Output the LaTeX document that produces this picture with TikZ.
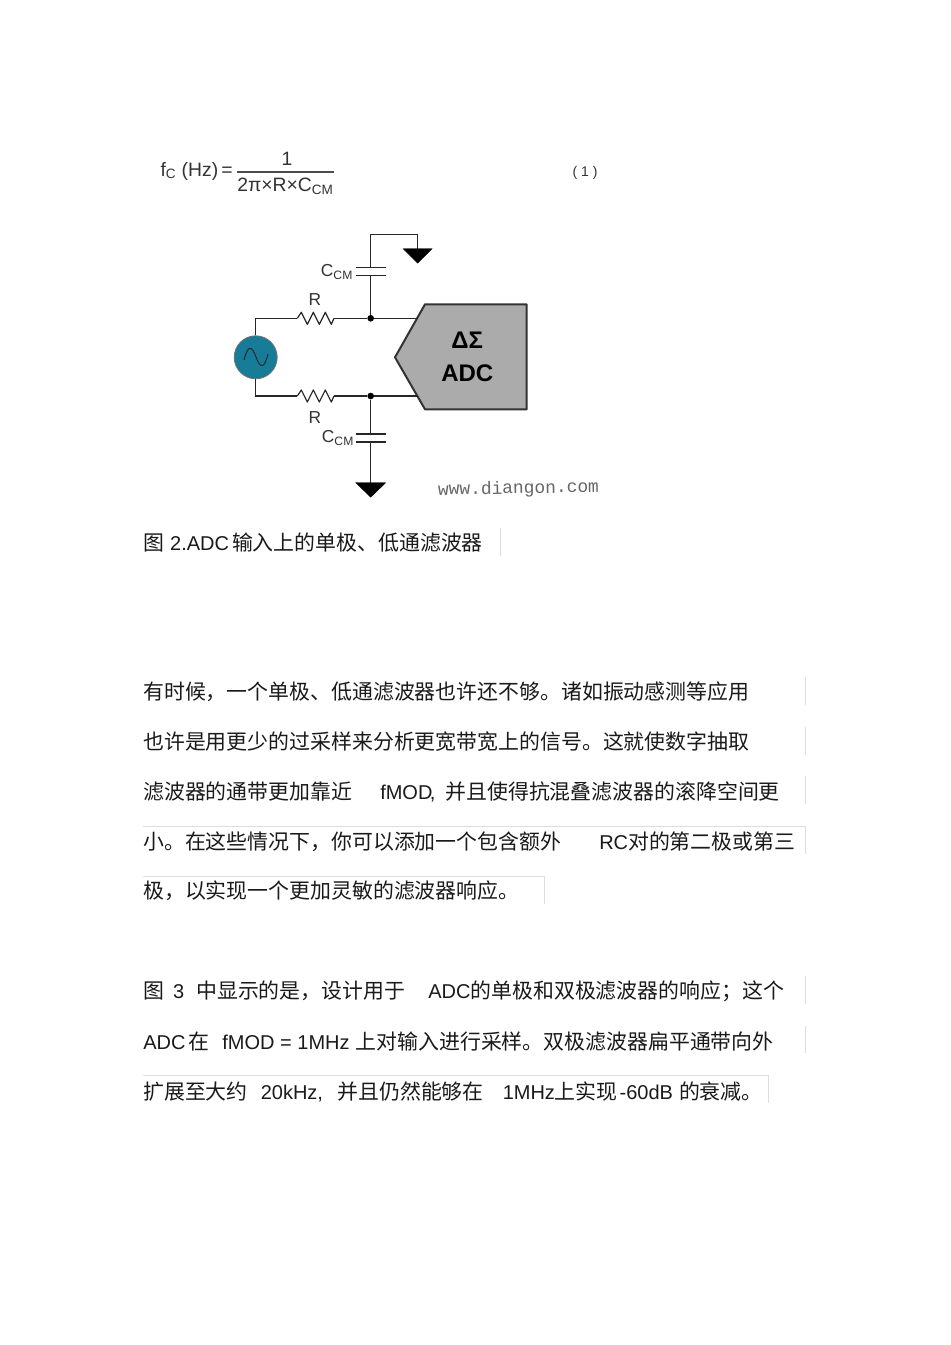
\documentclass[tikz,border=0pt]{standalone}
\usepackage{fontspec}
\setmainfont{Liberation Sans}
\newfontfamily\cjk[Scale=1.045]{Noto Sans CJK SC}
\newfontfamily\wmfont{Liberation Mono}
\usetikzlibrary{positioning}
\newcommand{\zh}[1]{{\cjk #1}}
\newcommand{\pxgap}[1]{\hspace{#1\dimexpr0.75pt\relax}}
\definecolor{srcteal}{HTML}{167C97}
\definecolor{adcgray}{HTML}{ABABAB}
\definecolor{inkgray}{HTML}{1A1A1A}
\definecolor{boxline}{HTML}{DDDDDD}
\begin{document}
\begin{tikzpicture}[x=0.75pt, y=-0.75pt,
wire/.style={draw=black!85, line width=0.9pt},
plate/.style={draw=black!85, line width=1pt},
gnd/.style={fill=black, draw=black, line width=0.3pt},
lbl/.style={inner sep=0pt, font=\fontsize{13}{15}\selectfont, text=black!80},
eqn/.style={inner sep=0pt, font=\fontsize{14.5}{16}\selectfont, text=black!80},
textline/.style={anchor=base west, inner sep=0pt, font=\fontsize{15}{18}\selectfont, text=inkgray},
boxedge/.style={draw=boxline, line width=0.5pt}]
\useasboundingbox (0,0) rectangle (950,1345);
\fill[white] (0,0) rectangle (950,1345);

\node[eqn, anchor=east] (fc) at (233,171) {f\textsubscript{C} (Hz)\,=};
\node[eqn] (num) at (287,159) {1};
\node[eqn] (den) at (285.5,186) {2π×R×C\textsubscript{CM}};
\draw[draw=black!70, line width=0.8pt] (den.north west |- 0,172) -- (den.north east |- 0,172);
\node[eqn, font=\fontsize{10.5}{12}\selectfont] (eqno) at (585,173) {( 1 )};

\node[circle, draw=black!55, fill=srcteal, line width=0.6pt, minimum size=43pt*0.75, inner sep=0pt] (src) at (255.7,357.3) {};
\draw[line width=0.7pt, black!85] (244,360) .. controls (248,344) and (252,346) .. (256,357) .. controls (260,368) and (264,370) .. (268,354);

\coordinate (adcTip) at (395,357.3);
\coordinate (adcTL) at (425,304.3);
\coordinate (adcTR) at (526.7,304.3);
\coordinate (adcBR) at (526.7,409.3);
\coordinate (adcBL) at (425,409.3);
\draw[fill=adcgray, draw=black!80, line width=1.5pt, line join=round] (adcTip) -- (adcTL) -- (adcTR) -- (adcBR) -- (adcBL) -- cycle;
\node[inner sep=0pt, font=\fontsize{18}{20}\selectfont\bfseries] (dsig) at (467.3,340) {ΔΣ};
\node[inner sep=0pt, font=\fontsize{18}{20}\selectfont\bfseries] (adc) at (467.3,373.3) {ADC};

\coordinate (rTopA) at (297.3,318.3);
\coordinate (rBotA) at (297.3,396);
\coordinate (rTopB) at (334,318.3);
\coordinate (rBotB) at (334,396);
\coordinate (inTop) at (418,318.3);
\coordinate (inBot) at (418,396);
\node[circle, fill=black, inner sep=0pt, minimum size=5pt] (jTop) at (370.7,318.3) {};
\node[circle, fill=black, inner sep=0pt, minimum size=5pt] (jBot) at (370.7,396) {};

\draw[wire] (src.north) |- (rTopA);
\draw[wire] (src.south) |- (rBotA);
\foreach \n in {rTop,rBot}
  \draw[wire, line join=round] (\n A) -- ++(4,-6) -- ++(6,12) -- ++(6,-12) -- ++(6,12) -- ++(6,-12) -- ++(6,12) -- (\n B);
\draw[wire] (rTopB) -- (jTop) -- (inTop);
\draw[wire] (rBotB) -- (jBot) -- (inBot);

\coordinate (capTopA) at (370.7,267.3);
\coordinate (capTopB) at (370.7,275.3);
\coordinate (capBotA) at (370.7,434);
\coordinate (capBotB) at (370.7,442);
\foreach \n in {capTopA,capTopB,capBotA,capBotB}
  \draw[plate] ([xshift=-14.5*0.75pt]\n) -- ([xshift=15*0.75pt]\n);

\coordinate (topCorner) at (370.7,234.3);
\coordinate (gndTop) at (417.7,248.7);
\coordinate (gndBot) at (370.7,482.7);
\draw[wire] (jTop) -- (capTopB);
\draw[wire] (capTopA) -- (topCorner) -| (gndTop);
\draw[wire] (jBot) -- (capBotA);
\draw[wire] (capBotB) -- (gndBot);
\draw[gnd] (gndTop) ++(-14.5,0) -- ++(29,0) -- ++(-14.5,14.5) -- cycle;
\draw[gnd] (gndBot) ++(-15,0) -- ++(30,0) -- ++(-15,14.5) -- cycle;

\node[lbl] (rTopLbl) at (315,300) {R};
\node[lbl] (rBotLbl) at (315,418) {R};
\node[lbl] (cTopLbl) at (337,272) {C\textsubscript{CM}};
\node[lbl] (cBotLbl) at (338,438) {C\textsubscript{CM}};

\node[inner sep=0pt, rotate=1, text=black!60, font=\wmfont\fontsize{13.4}{15}\selectfont] (wmark) at (518.5,489) {www.diangon.com};

\node[textline] (cap) at (143,550) {\zh{图}\pxgap{6}2.ADC\pxgap{3}\zh{输入上的单极、低通滤波器}};
\node[textline] (p1a) at (143,699) {\zh{有时候，一个单极、低通滤波器也许还不够。诸如振动感测等应用}};
\node[textline] (p1b) at (143,749) {\zh{也许是用更少的过采样来分析更宽带宽上的信号。这就使数字抽取}};
\node[textline] (p1c) at (143,799) {\zh{滤波器的通带更加靠近}\pxgap{28}fMOD\rlap{\kern-2pt,}\pxgap{13}\zh{并且使得抗混叠滤波器的滚降空间更}};
\node[textline] (p1d) at (143,849) {\zh{小。在这些情况下，你可以添加一个包含额外}\pxgap{38}RC\zh{对的第二极或第三}};
\node[textline] (p1e) at (143,898) {\zh{极，以实现一个更加灵敏的滤波器响应。}};
\node[textline] (p2a) at (143,998) {\zh{图}\pxgap{9}3\pxgap{12}\zh{中显示的是，设计用于}\pxgap{23}ADC\zh{的单极和双极滤波器的响应；这个}};
\node[textline] (p2b) at (143,1049) {ADC\pxgap{3}\zh{在}\pxgap{13}fMOD = 1MHz\pxgap{6}\zh{上对输入进行采样。双极滤波器扁平通带向外}};
\node[textline] (p2c) at (143,1099) {\zh{扩展至大约}\pxgap{13}20kHz\rlap{,}\pxgap{20}\zh{并且仍然能够在}\pxgap{19}1MHz\zh{上实现}\pxgap{2}-60dB\pxgap{6}\zh{的衰减。}};

\draw[boxedge] (500,528) -- (500,556);
\foreach \ya/\yb in {677/705,727/755,776/804,976/1004,1026/1053}
  \draw[boxedge] (805,\ya) -- (805,\yb);
\draw[boxedge] (143,826) -- (805,826) -- (805,854);
\draw[boxedge] (143,876) -- (544,876) -- (544,904);
\draw[boxedge] (143,1075) -- (768,1075) -- (768,1103);
\end{tikzpicture}
\end{document}
